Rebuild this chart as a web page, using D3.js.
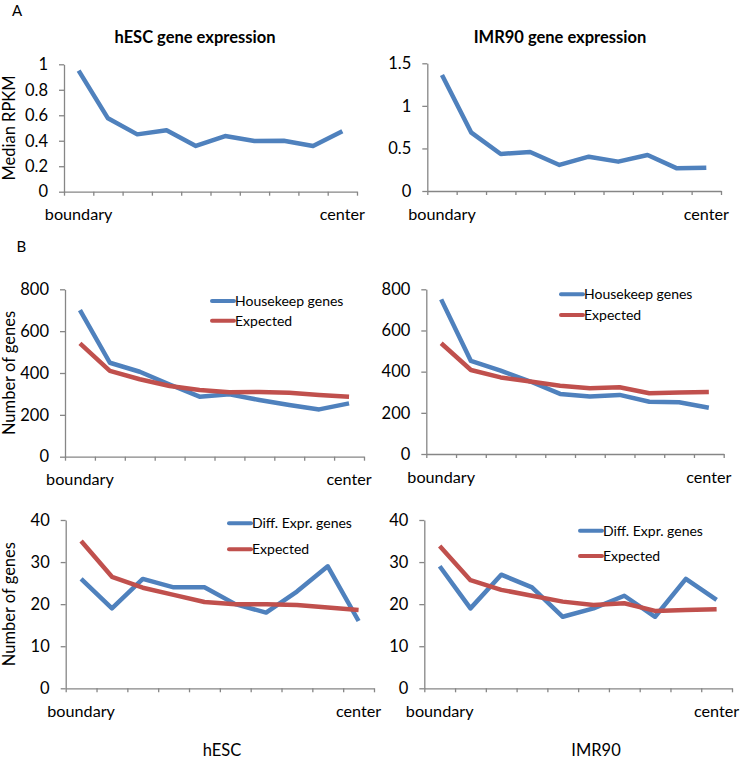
<!DOCTYPE html>
<html><head><meta charset="utf-8">
<script src="https://cdn.jsdelivr.net/npm/d3@7"></script>
<style>
body{margin:0;background:#fff;}
text{font-family:Lato,"Open Sans",sans-serif;fill:#000;}
</style></head>
<body><svg id="c" width="744" height="760"></svg>
<script>
// ---- data ----
const categories = ["boundary","","","","","","","","","center"];
const hescMedian  = [0.95,0.576,0.45,0.482,0.359,0.437,0.398,0.40,0.359,0.474];
const imr90Median = [1.363,0.685,0.435,0.458,0.306,0.403,0.345,0.423,0.266,0.274];
const hescHouse   = [701,449,406,345,287,298,271,247,226,255];
const hescHouseExp= [542,410,370,338,319,308,309,306,295,287];
const imr90House  = [751,452,405,352,292,279,287,254,251,225];
const imr90HouseExp=[538,408,372,352,332,319,324,295,299,301];
const hescDiff    = [26,19,26,24,24,20,18,23,29,16];
const hescDiffExp = [35,26.5,23.9,22.2,20.5,20,20,19.8,19.2,18.6];
const imr90Diff   = [29,19,27,24,17,19,22,17,26,21];
const imr90DiffExp= [33.8,25.7,23.4,22,20.6,19.8,20.2,18.4,18.6,18.8];
const ticks1 = [0,0.2,0.4,0.6,0.8,1];
const ticks2 = [0,0.5,1,1.5];
const ticks3 = [0,200,400,600,800];
const ticks4 = [0,10,20,30,40];

const BLUE="#4F81BD", RED="#C0504D", AXIS="#868686";
const svg = d3.select("#c");

function panel(o){
  const g = svg.append("g");
  const x = d3.scaleBand().domain(d3.range(categories.length)).range([o.x0,o.x1]);
  const xt = d3.scaleLinear().domain([0,categories.length]).range([o.x0,o.x1]);
  const y = d3.scaleLinear().domain([0,o.max]).range([o.yb,o.yt]);
  // x axis
  const xa = g.append("g").attr("transform",`translate(0,${o.yb})`)
    .call(d3.axisBottom(xt).tickValues(d3.range(categories.length+1)).tickFormat("").tickSize(4).tickSizeOuter(0));
  xa.selectAll("path,line").attr("stroke",AXIS).attr("stroke-width",1.3);
  // y axis
  const ya = g.append("g").attr("transform",`translate(${o.x0},0)`)
    .call(d3.axisLeft(y).tickValues(o.ticks).tickSize(5).tickSizeOuter(0).tickPadding(11).tickFormat(d=>String(d)));
  ya.selectAll("path,line").attr("stroke",AXIS).attr("stroke-width",1.3);
  ya.selectAll("text").attr("font-size",16.5).attr("fill","#000").attr("font-family","Lato");
  // category labels
  g.selectAll(".cat").data(categories).enter().append("text")
    .attr("x",(d,i)=>x(i)+x.bandwidth()/2).attr("y",o.yb+28.5)
    .attr("text-anchor","middle").attr("font-size",16.2).text(d=>d);
  // series
  const line = d3.line().x((d,i)=>x(i)+x.bandwidth()/2).y(d=>y(d));
  o.series.forEach(s=>{
    g.append("path").datum(s.v).attr("d",line).attr("fill","none")
      .attr("stroke",s.c).attr("stroke-width",4.5)
      .attr("stroke-linejoin","round").attr("stroke-linecap","butt");
  });
  // legend
  if(o.legend){
    o.legend.forEach((l,i)=>{
      const ly = o.legend.ys[i];
      g.append("line").attr("x1",o.legend.x).attr("x2",o.legend.x+22)
        .attr("y1",ly).attr("y2",ly).attr("stroke",l.c).attr("stroke-width",4).attr("stroke-linecap","round");
      g.append("text").attr("x",o.legend.x+23).attr("y",ly+5).attr("font-size",14).text(l.t);
    });
  }
  if(o.ylabel){
    svg.append("text").attr("transform",`translate(15,${(o.yt+o.yb)/2}) rotate(-90)`)
      .attr("text-anchor","middle").attr("font-size",16.5).text(o.ylabel);
  }
}

function legendArr(items,x,ys){const a=items.slice();a.x=x;a.ys=ys;return a;}

panel({x0:64,x1:357,yt:64.3,yb:191.7,max:1,ticks:ticks1,ylabel:"Median RPKM",
  series:[{v:hescMedian,c:BLUE}]});
panel({x0:427.3,x1:721,yt:63.3,yb:191,max:1.5,ticks:ticks2,
  series:[{v:imr90Median,c:BLUE}]});
panel({x0:65,x1:364,yt:289.3,yb:456.7,max:800,ticks:ticks3,ylabel:"Number of genes",
  series:[{v:hescHouse,c:BLUE},{v:hescHouseExp,c:RED}],
  legend:legendArr([{t:"Housekeep genes",c:BLUE},{t:"Expected",c:RED}],212,[301,320.7])});
panel({x0:426.3,x1:723.7,yt:289.3,yb:454,max:800,ticks:ticks3,
  series:[{v:imr90House,c:BLUE},{v:imr90HouseExp,c:RED}],
  legend:legendArr([{t:"Housekeep genes",c:BLUE},{t:"Expected",c:RED}],561,[294.3,315])});
panel({x0:65.7,x1:374,yt:520,yb:688.3,max:40,ticks:ticks4,ylabel:"Number of genes",
  series:[{v:hescDiff,c:BLUE},{v:hescDiffExp,c:RED}],
  legend:legendArr([{t:"Diff. Expr. genes",c:BLUE},{t:"Expected",c:RED}],229,[523.3,549.3])});
panel({x0:424.3,x1:732,yt:520,yb:688.3,max:40,ticks:ticks4,
  series:[{v:imr90Diff,c:BLUE},{v:imr90DiffExp,c:RED}],
  legend:legendArr([{t:"Diff. Expr. genes",c:BLUE},{t:"Expected",c:RED}],580,[530.7,556])});

// titles and labels
svg.append("text").attr("x",195).attr("y",43).attr("text-anchor","middle").attr("font-size",16.5).attr("font-weight","bold").text("hESC gene expression");
svg.append("text").attr("x",560).attr("y",43).attr("text-anchor","middle").attr("font-size",16.5).attr("font-weight","bold").text("IMR90 gene expression");
svg.append("text").attr("x",12).attr("y",15.5).attr("font-size",15).text("A");
svg.append("text").attr("x",16.5).attr("y",252).attr("font-size",15).text("B");
svg.append("text").attr("x",222).attr("y",756).attr("text-anchor","middle").attr("font-size",16.5).text("hESC");
svg.append("text").attr("x",596).attr("y",756).attr("text-anchor","middle").attr("font-size",16.5).text("IMR90");
</script></body></html>
